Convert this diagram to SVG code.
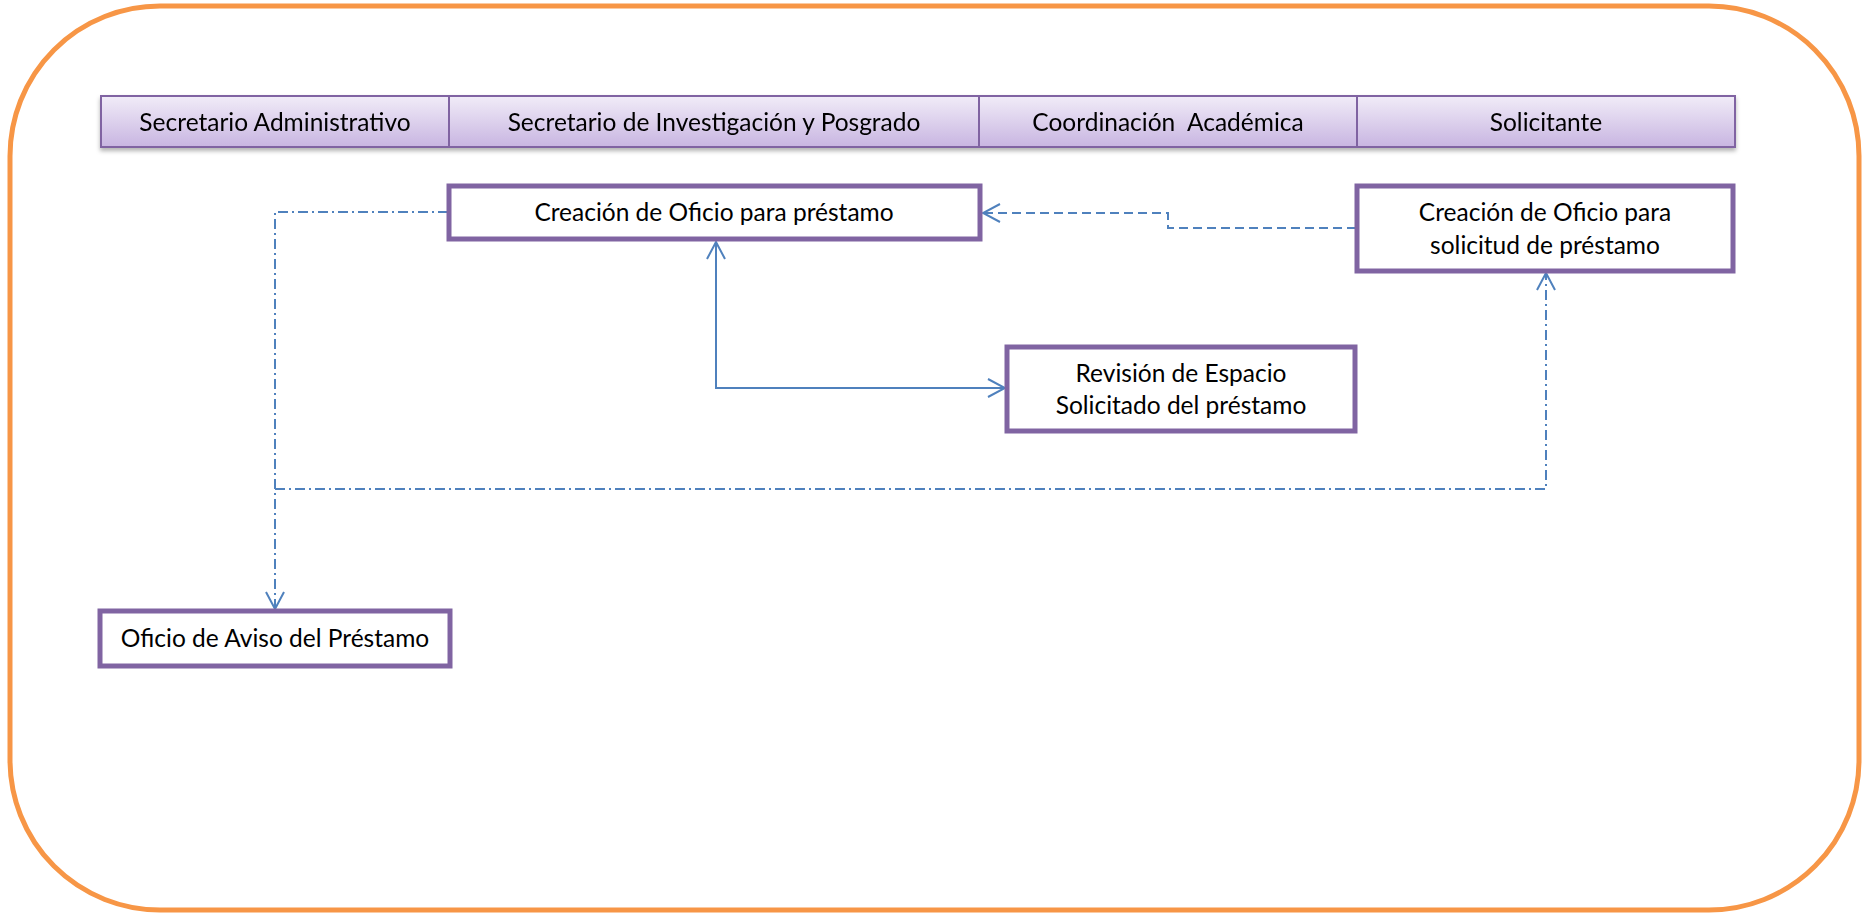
<svg xmlns="http://www.w3.org/2000/svg" width="1865" height="914" viewBox="0 0 1865 914">
<style>
.lbl{font-family:Lato,"Liberation Sans",sans-serif;font-size:24.5px;fill:#000;text-anchor:middle}
.hdr{fill:url(#hg);stroke:#8064A2;stroke-width:2}
.box{fill:#fff;stroke:#8064A2;stroke-width:5}
.c{fill:none;stroke:#4F81BD;stroke-width:2}
.dd{stroke-dasharray:10 4 2 4}
.ds{stroke-dasharray:9 5}
</style>
<defs>
<linearGradient id="hg" x1="0" y1="0" x2="0" y2="1">
<stop offset="0" stop-color="#F1ECF8"/>
<stop offset="1" stop-color="#C8B5E1"/>
</linearGradient>
<filter id="sh" x="-5%" y="-20%" width="110%" height="160%">
<feDropShadow dx="0" dy="3" stdDeviation="2" flood-color="#000" flood-opacity="0.3"/>
</filter>
<marker id="ah" viewBox="0 0 20 20" refX="18" refY="10" markerWidth="20" markerHeight="20" markerUnits="userSpaceOnUse" orient="auto-start-reverse">
<path d="M1,1 L18,10 L1,19" fill="none" stroke="#4F81BD" stroke-width="2"/>
</marker>
</defs>
<rect x="10" y="6" width="1849" height="904" rx="150" ry="150" fill="#fff" stroke="#F79646" stroke-width="5"/>
<g id="header" filter="url(#sh)">
<g id="lane-admin"><rect class="hdr" x="101" y="96" width="348" height="51"/><text class="lbl" x="275" y="131">Secretario Administrativo</text></g>
<g id="lane-invest"><rect class="hdr" x="449" y="96" width="530" height="51"/><text class="lbl" x="714" y="131">Secretario de Investigación y Posgrado</text></g>
<g id="lane-coord"><rect class="hdr" x="979" y="96" width="378" height="51"/><text class="lbl" x="1168" y="131" xml:space="preserve">Coordinación  Académica</text></g>
<g id="lane-solic"><rect class="hdr" x="1357" y="96" width="378" height="51"/><text class="lbl" x="1546" y="131">Solicitante</text></g>
</g>
<g id="connectors">
<polyline class="c ds" points="1356,228 1168,228 1168,213 983,213" marker-end="url(#ah)"/>
<polyline class="c" points="716,242 716,388 1005,388" marker-start="url(#ah)" marker-end="url(#ah)"/>
<polyline class="c dd" points="448,212 275,212 275,609" marker-end="url(#ah)"/>
<polyline class="c dd" points="275,489 1546,489 1546,273" marker-end="url(#ah)"/>
</g>
<g id="n-creacion"><rect class="box" x="449" y="186" width="531" height="53"/><text class="lbl" x="714" y="221">Creación de Oficio para préstamo</text></g>
<g id="n-solicitud"><rect class="box" x="1357" y="186" width="376" height="85"/><text class="lbl" x="1545" y="221">Creación de Oficio para</text><text class="lbl" x="1545" y="254">solicitud de préstamo</text></g>
<g id="n-revision"><rect class="box" x="1007" y="347" width="348" height="84"/><text class="lbl" x="1181" y="382">Revisión de Espacio</text><text class="lbl" x="1181" y="414">Solicitado del préstamo</text></g>
<g id="n-aviso"><rect class="box" x="100" y="611" width="350" height="55"/><text class="lbl" x="275" y="647">Oficio de Aviso del Préstamo</text></g>
</svg>
